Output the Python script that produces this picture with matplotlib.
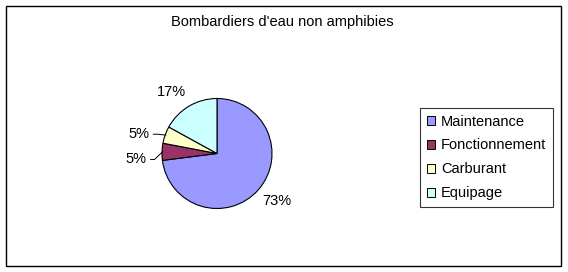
import numpy as np
import matplotlib
matplotlib.use("Agg")
import matplotlib.pyplot as plt
from matplotlib.patches import Rectangle

plt.rcParams['font.family'] = ['Liberation Sans', 'DejaVu Sans']

# data
categories = ['Maintenance', 'Fonctionnement', 'Carburant', 'Equipage']
values = [73, 5, 5, 17]
colors = ['#9999FF', '#993366', '#FFFFCC', '#CCFFFF']
title = "Bombardiers d'eau non amphibies"

W, H = 568, 272
FS = 10.5
fig = plt.figure(figsize=(W / 100, H / 100), dpi=100)

# outer frame
fig.patches.append(Rectangle((6 / W, 6 / H), 555 / W, 260 / H, transform=fig.transFigure,
                             fill=False, edgecolor='black', linewidth=1))

fig.text(282 / W, 1 - 22 / H, title, ha='center', va='center', fontsize=FS)

# pie axes: radius 1 -> 55 px
cx, cy, r = 217, H - 153.5, 55
ax = fig.add_axes([(cx - 2 * r) / W, (cy - 2 * r) / H, 4 * r / W, 4 * r / H])

wedges, _ = ax.pie(values, colors=colors, startangle=90, counterclock=False, radius=1,
                   wedgeprops=dict(edgecolor='black', linewidth=0.8))
ax.set_xlim(-2, 2)
ax.set_ylim(-2, 2)
ax.set_aspect('equal')
ax.axis('off')

# label placement (radius factor, angle offset) per slice
label_r = [1.38, 1.48, 1.47, 1.4]
label_da = [3, 6, 6, 6]
leader = [False, True, True, False]
for w, v, lr, da, ld in zip(wedges, values, label_r, label_da, leader):
    ang = np.deg2rad((w.theta1 + w.theta2) / 2 + da)
    tx, ty = lr * np.cos(ang), lr * np.sin(ang)
    ax.text(tx, ty, f'{v}%', ha='center', va='center', fontsize=FS)
    if ld:
        mid = np.deg2rad((w.theta1 + w.theta2) / 2)
        x0, y0 = 0.99 * np.cos(mid), 0.99 * np.sin(mid)
        x1 = tx + 0.27
        ax.plot([x1, x1 + 0.07, x0], [ty, ty, y0], color='black', linewidth=0.7)

handles = [Rectangle((0, 0), 1, 1, facecolor=c, edgecolor='black', linewidth=0.7) for c in colors]
leg = fig.legend(handles, categories, loc='upper left', bbox_to_anchor=(420 / W, 1 - 108 / H),
                 frameon=True, fancybox=False, edgecolor='black', fontsize=FS,
                 handlelength=0.6, handleheight=0.6, handletextpad=0.4, labelspacing=0.68,
                 borderpad=0.45, borderaxespad=0)
leg.get_frame().set_linewidth(0.8)

fig.savefig('out.png', dpi=100)
